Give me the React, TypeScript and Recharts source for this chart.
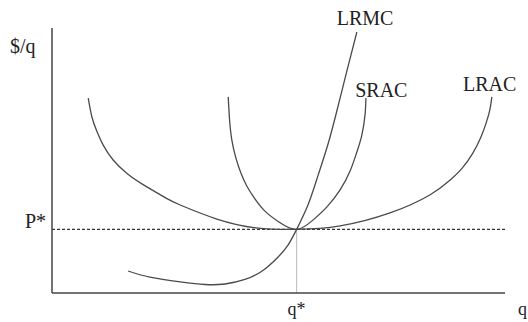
import React from "react";
import {
  ComposedChart,
  Line,
  XAxis,
  YAxis,
  ReferenceLine,
  ReferenceDot,
} from "recharts";

// equilibrium point (both axes run 0..100, arbitrary units)
const qStar = 54;
const pStar = 24;

// long run average cost
const lracQ = [8.0, 8.8, 9.9, 11.3, 13.5, 16.5, 20.2, 25.3, 28.3, 36.4, 45.0, 54, 63.6, 74.6, 83.4, 87.9, 90.5, 92.8, 94.6, 95.9, 96.7, 97.1];
const lracCost = [73.5, 66.5, 61.0, 55.8, 50.2, 45.2, 40.8, 35.7, 33.2, 27.9, 24.6, 24, 25.3, 30.2, 37.0, 42.6, 47.0, 52.5, 58.5, 64.5, 69.5, 74.0];

// short run average cost
const sracQ = [38.9, 39.2, 39.7, 40.6, 41.7, 43.0, 44.8, 47.0, 50.1, 54, 57.6, 60.7, 63.6, 65.8, 67.3, 68.4, 69.1, 69.3];
const sracCost = [74.0, 65.3, 57.7, 50.9, 45.3, 40.4, 35.5, 30.9, 26.8, 24, 27.5, 32.5, 38.9, 46.0, 53.2, 59.6, 67.2, 73.6];

// long run marginal cost
const lrmcQ = [16.8, 21.6, 28.3, 33.8, 38.2, 42.6, 46.4, 49.7, 52.1, 54, 56.5, 58.7, 61.0, 63.1, 65.1, 67.3];
const lrmcCost = [8.3, 6.0, 4.2, 3.2, 3.4, 5.1, 8.3, 13.2, 18.1, 24, 33.2, 44.2, 56.6, 70.2, 83.8, 98.5];

// curve labels: name, q, cost
const curveNames = ["LRMC", "SRAC", "LRAC"];
const labelQ = [69.1, 72.7, 96.6];
const labelCost = [103.8, 76.6, 78.9];

const FONT = '"Liberation Serif", "Times New Roman", serif';
const INK = "#222";
const CURVE = "#4a4a4a";

const toPoints = (xs: number[], ys: number[]) => xs.map((q, i) => ({ q, cost: ys[i] }));

const lracData = toPoints(lracQ, lracCost);
const sracData = toPoints(sracQ, sracCost);
const lrmcData = toPoints(lrmcQ, lrmcCost);

const PriceTick = (props: any) => (
  <text x={props.x} y={props.y - 1} textAnchor="end" fontFamily={FONT} fontSize={20} fill={INK}>
    P*
  </text>
);

const QuantityTick = (props: any) => (
  <text x={props.x} y={props.y + 22} textAnchor="middle" fontFamily={FONT} fontSize={18} fill={INK}>
    q*
  </text>
);

const QAxisLabel = (props: any) => {
  const vb = props.viewBox;
  return (
    <text x={vb.x + vb.width + 13} y={vb.y + 22} fontFamily={FONT} fontSize={18} fill={INK}>
      q
    </text>
  );
};

const CostAxisLabel = (props: any) => {
  const vb = props.viewBox;
  return (
    <text x={vb.x - 2} y={vb.y + 25} fontFamily={FONT} fontSize={20} fill={INK}>
      $/q
    </text>
  );
};

export default function App() {
  return (
    <div style={{ position: "absolute", left: 0, top: 0, background: "#fff" }}>
      <ComposedChart width={528} height={322} margin={{ top: 28, right: 23, bottom: 0, left: 12 }}>
        <XAxis
          type="number"
          dataKey="q"
          domain={[0, 100]}
          ticks={[qStar]}
          tick={QuantityTick}
          tickLine={false}
          tickSize={0}
          tickMargin={0}
          height={29}
          axisLine={{ stroke: "#444", strokeWidth: 1.5 }}
          label={{ content: QAxisLabel }}
        />
        <YAxis
          type="number"
          domain={[0, 100]}
          ticks={[pStar]}
          tick={PriceTick}
          tickLine={false}
          tickSize={0}
          tickMargin={6}
          width={40}
          axisLine={{ stroke: "#444", strokeWidth: 1.5 }}
          label={{ content: CostAxisLabel }}
        />
        <ReferenceLine y={pStar} stroke="#333" strokeWidth={1.2} strokeDasharray="3 2" />
        <ReferenceLine
          segment={[
            { x: qStar, y: 0 },
            { x: qStar, y: pStar },
          ]}
          stroke="#bbb"
          strokeWidth={1}
        />
        <Line data={lracData} dataKey="cost" type="natural" stroke={CURVE} strokeWidth={1.3} dot={false} isAnimationActive={false} />
        <Line data={sracData} dataKey="cost" type="natural" stroke={CURVE} strokeWidth={1.3} dot={false} isAnimationActive={false} />
        <Line data={lrmcData} dataKey="cost" type="natural" stroke={CURVE} strokeWidth={1.3} dot={false} isAnimationActive={false} />
        {curveNames.map((name, i) => (
          <ReferenceDot
            key={name}
            x={labelQ[i]}
            y={labelCost[i]}
            r={0}
            stroke="none"
            fill="none"
            ifOverflow="visible"
            label={{ value: name, position: "center", fontFamily: FONT, fontSize: 20, fill: INK }}
          />
        ))}
      </ComposedChart>
    </div>
  );
}
